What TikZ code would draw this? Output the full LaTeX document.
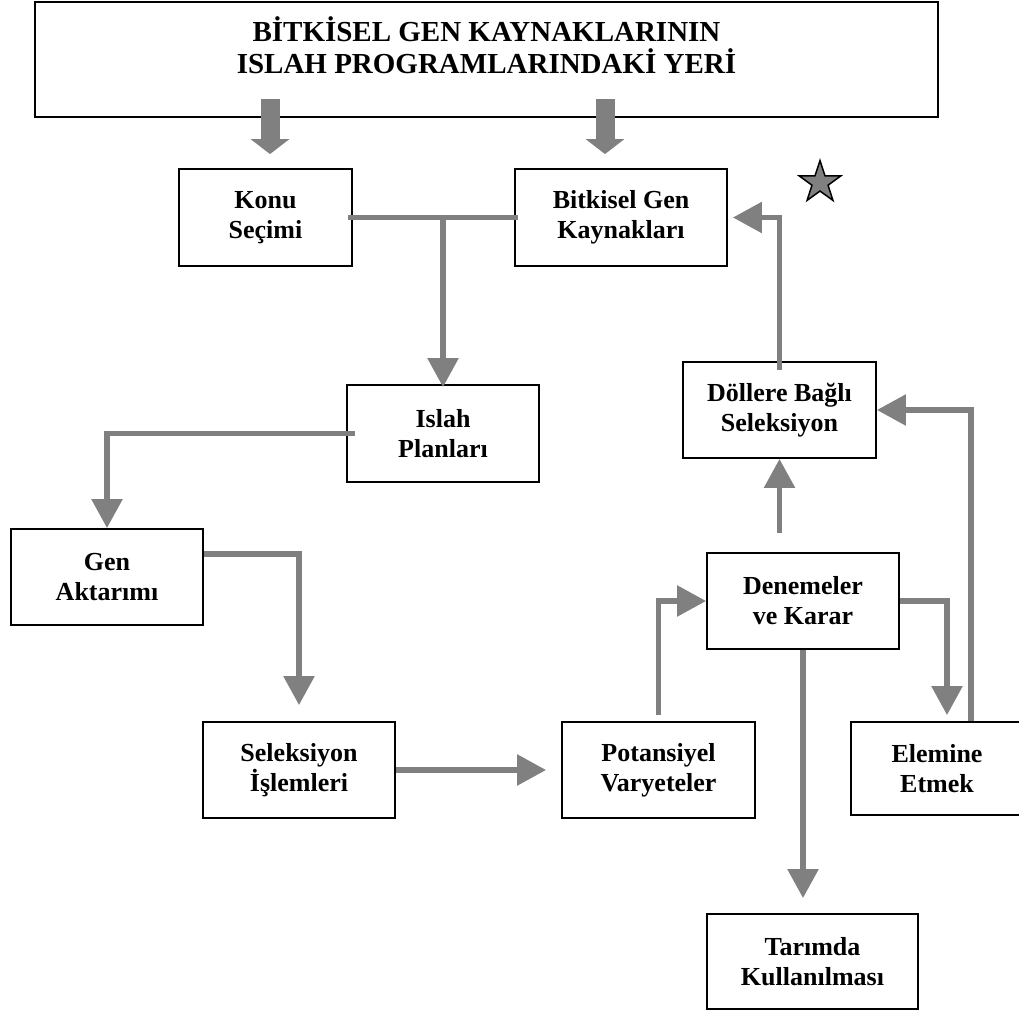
\documentclass[tikz,border=0pt]{standalone}
\usepackage{fontspec}
\setmainfont{Liberation Serif}
\usetikzlibrary{arrows.meta,shapes.geometric,calc}

\begin{document}
\begin{tikzpicture}[
  x=1pt, y=-1pt,
  box/.style = {
    shape=rectangle,
    draw,
    line width=1.8pt,
    align=center,
    inner sep=0pt,
    minimum height=96pt,
    font=\fontsize{26}{30}\selectfont\bfseries
  },
  conn/.style = {
    draw=gray,
    line width=5.5pt,
    -{Triangle[width=30pt,length=29pt]}
  },
  fat/.style = {
    draw=gray,
    line width=19pt,
    -{Triangle[width=38pt,length=15pt]}
  }
]

\useasboundingbox (0,0) rectangle (1019,1011);

\node[box, minimum width=903pt, minimum height=115pt] (titlebox) at (486.5,59.5) {};
\node[font=\fontsize{29}{32}\selectfont\bfseries, align=center] (title) at (486.5,45)
  {BİTKİSEL GEN KAYNAKLARININ\\ISLAH PROGRAMLARINDAKİ YERİ};

\node[box, minimum width=173pt, minimum height=97pt] (konu) at (265.5,217.5) {Konu\\Seçimi};
\node[box, minimum width=212pt, minimum height=97pt] (bit) at (621,217.5) {Bitkisel Gen\\Kaynakları};
\node[box, minimum width=192pt, minimum height=97pt] (islah) at (443,433.5) {Islah\\Planları};
\node[box, minimum width=192pt] (gen) at (107,577) {Gen\\Aktarımı};
\node[box, minimum width=192pt] (sel) at (299,770) {Seleksiyon\\İşlemleri};
\node[box, minimum width=193pt] (pot) at (658.5,770) {Potansiyel\\Varyeteler};
\node[box, minimum width=192pt] (den) at (803,601) {Denemeler\\ve Karar};
\node[box, minimum width=172pt, minimum height=93pt] (ele) at (937,768.5) {Elemine\\Etmek};
\node[box, minimum width=193pt] (dol) at (779.5,410) {Döllere Bağlı\\Seleksiyon};
\node[box, minimum width=211pt, minimum height=95pt] (tar) at (812.5,961.5) {Tarımda\\Kullanılması};

\node[star, star points=5, star point ratio=2.6, draw, fill=gray, line width=1.5pt,
  minimum size=44pt, inner sep=0pt] (star) at (820,182.6) {};

\draw[fat] ($(konu.north |- titlebox.south)+(4.5,-19)$) -- ($(konu.north)+(4.5,-14)$);
\draw[fat] ($(bit.north |- titlebox.south)+(-16,-19)$) -- ($(bit.north)+(-16,-14)$);

\draw[conn, -, shorten <=-5pt, shorten >=-4pt] (konu.east) -- (bit.west);
\draw[conn, shorten >=-3pt] (konu.east -| islah.north) -- (islah.north);
\draw[conn, shorten <=-9pt] (islah.west) -| (gen.north);
\draw[conn, shorten >=16pt] ([yshift=23pt]gen.east) -| (sel.north);
\draw[conn, shorten >=15pt] (sel.east) -- (pot.west);
\draw[conn, shorten <=6pt] (pot.north) |- (den.west);
\draw[conn, shorten >=6pt] (den.east) -| ([xshift=10pt]ele.north);
\draw[conn] ([xshift=34pt]ele.north) |- (dol.east);
\draw[conn, shorten <=19pt] (den.north -| dol.south) -- (dol.south);
\draw[conn, shorten <=-9pt, shorten >=5pt] (dol.north) |- (bit.east);
\draw[conn, shorten >=15pt] (den.south) -- (den.south |- tar.north);

\end{tikzpicture}
\end{document}
